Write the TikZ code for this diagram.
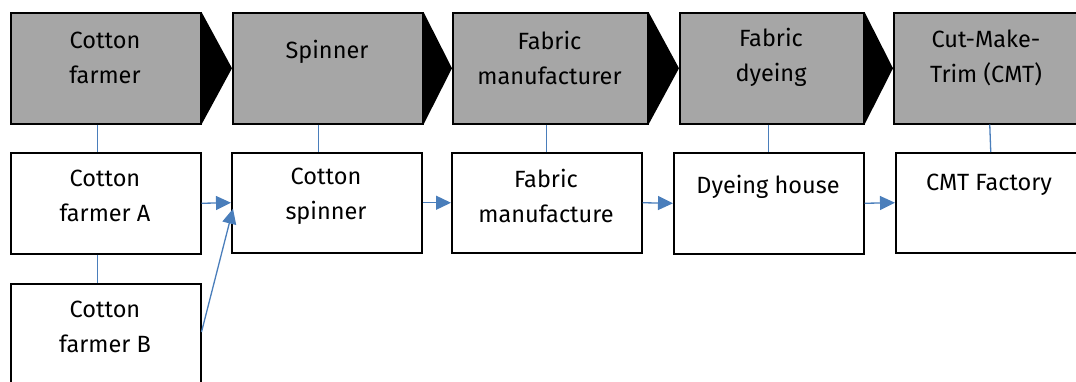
\documentclass[tikz,border=0pt]{standalone}
\usepackage{fontspec}
\setmainfont{Fira Sans}
\usetikzlibrary{arrows.meta,calc}
\definecolor{stagegray}{HTML}{A6A6A6}
\definecolor{linkblue}{HTML}{4A7EBB}
\begin{document}
\begin{tikzpicture}[x=1pt,y=-1pt,
  stage/.style={draw=black, line width=1.5pt, fill=stagegray, anchor=north west, inner sep=0pt, minimum height=111pt},
  entity/.style={draw=black, line width=1.5pt, fill=white, anchor=north west, inner sep=0pt, minimum height=101pt},
  txt/.style={font=\fontsize{23.5}{35}\selectfont, align=center, anchor=center, inner sep=0pt},
  link/.style={draw=linkblue, line width=1.3pt},
  flow/.style={link, -{Triangle[length=15pt,width=14pt]}}]
\useasboundingbox (0,0) rectangle (1076,381);
\clip (0,0) rectangle (1076,381);
% stage boxes
\node[stage, minimum width=190pt] (s1) at (10,12) {};
\node[stage, minimum width=190pt] (s2) at (232,12) {};
\node[stage, minimum width=195pt] (s3) at (452,12) {};
\node[stage, minimum width=184pt] (s4) at (679,12) {};
\node[stage, minimum width=188pt] (s5) at (893,12) {};
% chevrons
\fill (s1.north east) -- (s2.west) -- (s1.south east) -- cycle;
\fill (s2.north east) -- (s3.west) -- (s2.south east) -- cycle;
\fill (s3.north east) -- (s4.west) -- (s3.south east) -- cycle;
\fill (s4.north east) -- (s5.west) -- (s4.south east) -- cycle;
% stage texts
\node[txt] (t1) at (105,57.5) {Cotton\\farmer};
\node[txt] (t2) at (327,52) {Spinner};
\node[txt] (t3) at (549.5,57.5) {Fabric\\manufacturer};
\node[txt] (t4) at (771,57.5) {Fabric\\dyeing};
\node[txt] (t5) at (986,57.5) {Cut-Make-\\Trim (CMT)};
% entity boxes
\node[entity, minimum width=190pt] (e1) at (10,152) {};
\node[entity, minimum width=190pt, minimum height=130pt] (eB) at (10,283) {};
\node[entity, minimum width=190pt, minimum height=100pt] (e2) at (231,152) {};
\node[entity, minimum width=190pt, minimum height=100pt] (e3) at (451,152) {};
\node[entity, minimum width=190pt] (e4) at (673,152) {};
\node[entity, minimum width=190pt, minimum height=100pt] (e5) at (895,152) {};
% entity texts
\node[txt] (u1) at (105,196) {Cotton\\farmer A};
\node[txt] (uB) at (105,326.5) {Cotton\\farmer B};
\node[txt] (u2) at (326,196) {Cotton\\spinner};
\node[txt] (u3) at (546,196) {Fabric\\manufacture};
\node[txt] (u4) at (768,187) {Dyeing house};
\node[txt] (u5) at (989,185) {CMT Factory};
% vertical links
\draw[link] ([xshift=-8pt]s1.south) -- ([xshift=-8pt]e1.north);
\draw[link] ([xshift=-8pt]e1.south) -- ([xshift=-8pt]eB.north);
\draw[link] ([xshift=-9pt]s2.south) -- ([xshift=-8pt]e2.north);
\draw[link] ([xshift=-3.5pt]s3.south) -- (e3.north);
\draw[link] ([xshift=-3pt]s4.south) -- (e4.north);
\draw[link] ([xshift=2pt]s5.south) -- (e5.north);
% flow arrows
\draw[flow] (e1.east) -- (e2.west);
\coordinate (bstart) at ($(eB.north east)+(0,49)$);
\coordinate (bend) at ($(e2.west)+(2,6)$);
\draw[flow] (bstart) -- (bend);
\draw[flow] (e2.east) -- (e3.west);
\draw[flow] (e3.east) -- (e4.west);
\draw[flow] (e4.east) -- (e5.west);
\end{tikzpicture}
\end{document}
